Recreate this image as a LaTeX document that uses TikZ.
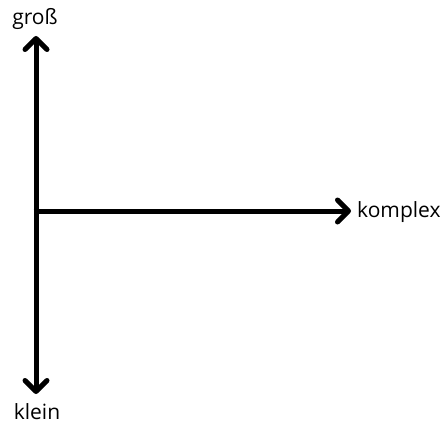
\documentclass[tikz,border=0pt]{standalone}
\usepackage{fontspec}
\setmainfont{Open Sans}
\usetikzlibrary{arrows.meta}
\begin{document}
\begin{tikzpicture}[x=1pt,y=-1pt,
  axis/.style={line width=5pt,-{Straight Barb[length=11pt,width=22pt,line width=5pt,round]}},
  lbl/.style={inner sep=0pt,font=\fontsize{21}{24}\selectfont}]
  \useasboundingbox (0,0) rectangle (444,425);
  \coordinate (o) at (36,211);
  \coordinate (top) at (36,36);
  \coordinate (bot) at (36,394);
  \coordinate (rgt) at (351,211);
  \draw[axis] (o) -- (top);
  \draw[axis] (o) -- (bot);
  \draw[axis] (33.5,211) -- (rgt);
  \node[lbl] (gross) at (35,19) {groß};
  \node[lbl,anchor=west] (komplex) at (357,212) {komplex};
  \node[lbl] (klein) at (37,412) {klein};
\end{tikzpicture}
\end{document}
